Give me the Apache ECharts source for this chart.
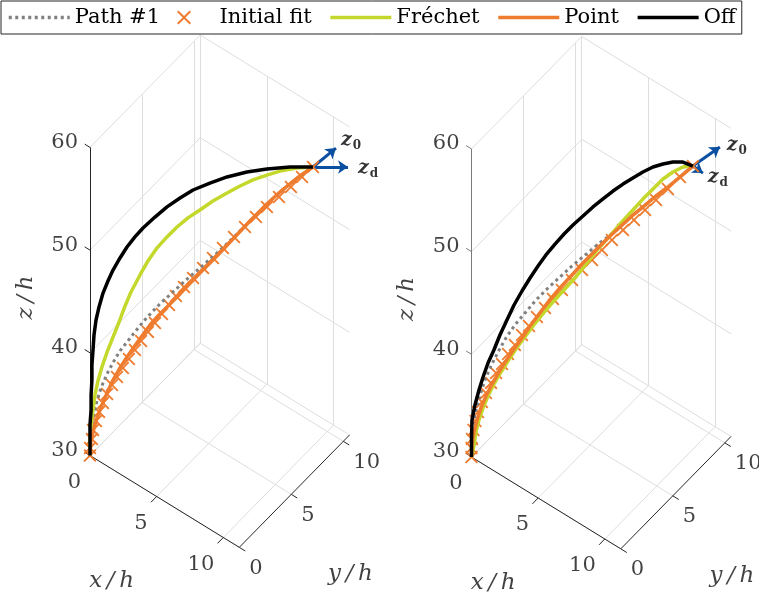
<!DOCTYPE html>
<html><head><meta charset="utf-8">
<script src="https://cdn.jsdelivr.net/npm/echarts@6/dist/echarts.min.js"></script>
<style>html,body{margin:0;padding:0;background:#fff}#c{width:759px;height:598px}</style>
</head><body><div id="c"></div>
<script>
// ---- axes ----
const tickX=[0,5,10], tickY=[0,5,10], tickZ=[30,40,50,60];
const limX=[0,11.2], limY=[0,10.6], limZ=[30,60];
const seriesNames=['Path #1','Initial fit','Fréchet','Point','Off'];

// ---- left panel ----
const L_pathX=[0,0,0.05,0.14,0.28,0.42,0.61,0.84,1.12,1.40,1.73,2.10,2.48,2.90,3.37,3.88,4.49,5.14,5.94,6.69,7.48,8.28,8.89,9.35,9.87,10.43];
const L_pathY=[0,0,0.04,0.11,0.22,0.33,0.47,0.65,0.87,1.09,1.34,1.63,1.92,2.24,2.60,3.00,3.47,3.98,4.59,5.17,5.79,6.40,6.87,7.24,7.63,8.07];
const L_pathZ=[30,31.51,32.68,33.75,34.92,35.99,37.06,38.13,39.20,40.18,41.05,42.03,43.00,43.97,44.95,45.92,47.09,48.26,49.72,51.18,52.83,54.49,55.66,56.44,57.31,58.09];

const L_pointX=[0,0.05,0.19,0.33,0.56,0.80,1.08,1.40,1.73,2.06,2.43,2.81,3.18,3.60,4.21,5.14,5.94,6.69,7.48,8.28,8.89,9.35,9.87,10.43];
const L_pointY=[0,0.04,0.14,0.25,0.43,0.62,0.83,1.09,1.34,1.59,1.88,2.17,2.46,2.79,3.26,3.98,4.59,5.17,5.79,6.40,6.87,7.24,7.63,8.07];
const L_pointZ=[30,31.51,32.68,33.65,34.92,36.09,37.35,38.52,39.59,40.56,41.64,42.71,43.58,44.46,45.73,47.77,49.43,51.08,52.83,54.49,55.66,56.44,57.31,58.09];

const L_fitX=[0,0,0.09,0.14,0.28,0.42,0.61,0.80,1.03,1.26,1.54,1.82,2.10,2.39,2.71,3.04,3.37,3.70,4.02,4.40,4.82,5.29,5.75,6.22,6.74,7.25,7.76,8.28,8.84,9.40,9.92,10.43];
const L_fitY=[0,0,0.07,0.11,0.22,0.33,0.47,0.62,0.80,0.98,1.19,1.41,1.63,1.85,2.10,2.35,2.60,2.86,3.11,3.40,3.73,4.09,4.45,4.81,5.21,5.61,6.01,6.40,6.84,7.27,7.67,8.07];
const L_fitZ=[30,30.73,31.61,32.48,33.36,34.24,35.11,35.99,36.86,37.64,38.52,39.40,40.27,41.15,42.03,42.90,43.78,44.65,45.53,46.41,47.28,48.26,49.23,50.20,51.28,52.25,53.22,54.20,55.17,56.14,57.12,58.09];

const L_frechetX=[0,0,0.05,0.14,0.23,0.37,0.56,0.80,1.08,1.36,1.64,1.92,2.34,2.71,3.13,3.60,4.07,4.58,5.14,5.75,6.41,7.02,7.62,8.28,8.89,9.68,10.43];
const L_frechetY=[0,0,0.04,0.11,0.18,0.29,0.43,0.62,0.83,1.05,1.27,1.48,1.81,2.10,2.42,2.79,3.15,3.55,3.98,4.45,4.96,5.43,5.90,6.40,6.87,7.49,8.07];
const L_frechetZ=[30,31.51,32.97,34.43,35.89,37.25,38.62,40.08,41.54,43.00,44.56,45.92,47.58,48.94,50.20,51.28,52.25,53.13,53.90,54.78,55.56,56.24,56.83,57.31,57.70,57.99,58.09];

const L_offX=[0,0,0,0.05,0.05,0.09,0.09,0.14,0.19,0.28,0.42,0.61,0.84,1.08,1.40,1.73,2.10,2.48,3.04,3.60,4.21,4.82,5.61,6.41,7.34,8.28,9.35,10.43];
const L_offY=[0,0,0,0.04,0.04,0.07,0.07,0.11,0.14,0.22,0.33,0.47,0.65,0.83,1.09,1.34,1.63,1.92,2.35,2.79,3.26,3.73,4.34,4.96,5.68,6.40,7.24,8.07];
const L_offZ=[30,31.51,32.97,34.43,35.89,37.35,38.81,40.27,41.73,43.19,44.46,45.82,46.99,48.06,49.23,50.30,51.28,52.15,53.22,54.20,55.07,55.85,56.53,57.12,57.60,57.90,58.09,58.09];

const L_end=[10.43,8.07,58.09], L_z0=[1.08,0.83,1.85], L_zd=[1.64,1.27,0];

// ---- right panel ----
const R_pathX=[0,0.02,0.07,0.21,0.40,0.63,0.91,1.24,1.61,2.03,2.50,3.02,3.53,4.09,4.65,5.26,5.87,6.43,6.95,7.51,8.07,8.63,9.19,9.75,10.36];
const R_pathY=[0,0.02,0.05,0.16,0.31,0.49,0.71,0.96,1.25,1.57,1.94,2.33,2.73,3.17,3.60,4.07,4.54,4.97,5.37,5.81,6.24,6.68,7.11,7.54,8.01];
const R_pathZ=[30,31.66,33.12,34.58,36.04,37.50,38.86,40.22,41.59,42.85,44.02,45.29,46.36,47.43,48.50,49.57,50.64,51.52,52.40,53.47,54.44,55.41,56.29,57.26,58.33];

const R_pointX=[0,0.02,0.12,0.26,0.44,0.68,0.96,1.29,1.61,1.99,2.36,2.74,3.16,3.62,4.14,4.70,5.26,5.82,6.38,6.95,7.51,8.07,8.63,9.19,9.75,10.36];
const R_pointY=[0,0.02,0.09,0.20,0.34,0.52,0.74,0.99,1.25,1.54,1.83,2.12,2.44,2.80,3.20,3.64,4.07,4.50,4.94,5.37,5.81,6.24,6.68,7.11,7.54,8.01];
const R_pointZ=[30,31.17,32.43,33.60,34.77,35.94,37.11,38.28,39.35,40.52,41.59,42.76,43.92,45.19,46.46,47.72,48.99,50.16,51.32,52.40,53.47,54.44,55.41,56.29,57.26,58.33];

const R_fitX=[0,0,0.02,0.09,0.19,0.30,0.49,0.68,0.91,1.15,1.43,1.71,2.03,2.36,2.69,3.06,3.44,3.81,4.23,4.70,5.17,5.64,6.10,6.57,7.09,7.60,8.12,8.63,9.19,9.75,10.36];
const R_fitY=[0,0,0.02,0.07,0.14,0.24,0.38,0.52,0.71,0.89,1.10,1.32,1.57,1.83,2.08,2.37,2.66,2.95,3.27,3.64,4.00,4.36,4.72,5.08,5.48,5.88,6.28,6.68,7.11,7.54,8.01];
const R_fitZ=[30,30.88,31.75,32.63,33.51,34.38,35.36,36.23,37.21,38.18,39.06,40.03,40.91,41.88,42.76,43.63,44.51,45.38,46.26,47.23,48.21,49.18,50.16,51.13,52.10,53.08,54.05,55.02,56.10,57.26,58.33];

const R_frechetX=[0,0.12,0.21,0.35,0.54,0.77,1.05,1.38,1.71,2.08,2.46,2.88,3.30,3.77,4.28,4.84,5.40,5.92,6.43,6.95,7.51,8.02,8.49,8.96,9.42,9.89,10.36];
const R_frechetY=[0,0.09,0.16,0.27,0.42,0.60,0.81,1.07,1.32,1.61,1.90,2.23,2.55,2.91,3.31,3.74,4.18,4.58,4.97,5.37,5.81,6.20,6.57,6.93,7.29,7.65,8.01];
const R_frechetZ=[30,31.17,32.43,33.60,34.77,35.94,37.11,38.28,39.35,40.52,41.59,42.76,43.83,45.00,46.16,47.43,48.89,50.25,51.42,52.69,53.95,55.12,56.10,57.07,57.75,58.24,58.33];

const R_offX=[0,0,0.02,0.16,0.35,0.54,0.77,1.05,1.33,1.66,1.99,2.36,2.74,3.11,3.48,3.91,4.33,4.75,5.22,5.68,6.15,6.62,7.09,7.55,8.02,8.49,8.96,9.42,9.89,10.36];
const R_offY=[0,0,0.02,0.13,0.27,0.42,0.60,0.81,1.03,1.28,1.54,1.83,2.12,2.41,2.70,3.02,3.35,3.67,4.03,4.40,4.76,5.12,5.48,5.84,6.20,6.57,6.93,7.29,7.65,8.01];
const R_offZ=[30,31.66,33.60,35.06,36.52,37.79,39.15,40.42,41.88,43.34,44.80,46.16,47.43,48.60,49.67,50.74,51.71,52.59,53.47,54.34,55.12,55.90,56.58,57.17,57.75,58.24,58.53,58.72,58.72,58.33];

const R_end=[10.36,8.01,58.33], R_z0=[1.26,0.98,1.85], R_zd=[0.47,0.36,-0.68];

// ---- styling ----
const FONT="'DejaVu Serif', serif";
const C={path:'#808080',orange:'#EF7B2E',frechet:'#C4D82C',off:'#000000',arrow:'#0B4FA0',grid:'#DEDEDE',axis:'#262626'};
const CROSS='path://M0,2L2,0L10,8L18,0L20,2L12,10L20,18L18,20L10,12L2,20L0,18L8,10Z';

// orthographic projection of (x,y,z) onto the page plane (1 unit = 1 px)
const P=(x,y,z)=>[13.33*x+10.4*y, -8.2*x+10.6*y+10.27*(z-30)];
const zip=(X,Y,Z)=>X.map((x,i)=>P(x,Y[i],Z[i]));
const add=(a,b)=>[a[0]+b[0],a[1]+b[1],a[2]+b[2]];
const shift=(p,dx,dy)=>[p[0]+dx,p[1]-dy];

const panels=[
 {path:[L_pathX,L_pathY,L_pathZ],fit:[L_fitX,L_fitY,L_fitZ],fre:[L_frechetX,L_frechetY,L_frechetZ],
  pt:[L_pointX,L_pointY,L_pointZ],off:[L_offX,L_offY,L_offZ],end:L_end,z0:L_z0,zd:L_zd,zAxisColor:C.axis,
  z0lab:[15,-8],zdlab:[20,1]},
 {path:[R_pathX,R_pathY,R_pathZ],fit:[R_fitX,R_fitY,R_fitZ],fre:[R_frechetX,R_frechetY,R_frechetZ],
  pt:[R_pointX,R_pointY,R_pointZ],off:[R_offX,R_offY,R_offZ],end:R_end,z0:R_z0,zd:R_zd,zAxisColor:'#7a7a7a',
  z0lab:[17,-2],zdlab:[15,4]}
];

const series=[];
panels.forEach((pn,gi)=>{
  const seg=(a,b)=>({coords:[P(...a),P(...b)]});
  const g=[];
  tickY.forEach(y=>g.push(seg([0,y,limZ[0]],[0,y,limZ[1]])));
  tickZ.forEach(z=>g.push(seg([0,limY[0],z],[0,limY[1],z])));
  tickX.forEach(x=>g.push(seg([x,limY[1],limZ[0]],[x,limY[1],limZ[1]])));
  tickZ.forEach(z=>g.push(seg([limX[0],limY[1],z],[limX[1],limY[1],z])));
  tickX.forEach(x=>g.push(seg([x,limY[0],limZ[0]],[x,limY[1],limZ[0]])));
  tickY.forEach(y=>g.push(seg([limX[0],y,limZ[0]],[limX[1],y,limZ[0]])));
  const base={xAxisIndex:gi,yAxisIndex:gi,silent:true,animation:false};
  series.push(Object.assign({type:'lines',coordinateSystem:'cartesian2d',polyline:false,data:g,
    lineStyle:{color:C.grid,width:1,opacity:1},symbol:'none'},base));
  const ax=[];
  ax.push(seg([limX[0],limY[0],limZ[0]],[limX[1],limY[0],limZ[0]]));
  ax.push(seg([limX[1],limY[0],limZ[0]],[limX[1],limY[1],limZ[0]]));
  tickX.forEach(x=>ax.push(seg([x,0,limZ[0]],[x,-0.55,limZ[0]])));
  tickY.forEach(y=>ax.push(seg([limX[1],y,limZ[0]],[limX[1]+0.45,y,limZ[0]])));
  series.push(Object.assign({type:'lines',coordinateSystem:'cartesian2d',polyline:false,data:ax,
    lineStyle:{color:C.axis,width:1,opacity:1},symbol:'none'},base));
  const zax=[seg([0,0,limZ[0]],[0,0,limZ[1]])];
  tickZ.forEach(z=>zax.push(seg([0,0,z],[-0.4,0,z])));
  series.push(Object.assign({type:'lines',coordinateSystem:'cartesian2d',polyline:false,data:zax,
    lineStyle:{color:pn.zAxisColor,width:1,opacity:1},symbol:'none'},base));

  // data series
  series.push(Object.assign({},base,{type:'line',name:'Path #1',data:zip(...pn.path),symbol:'none',clip:false,
    lineStyle:{color:C.path,width:3,type:[3,3.5]},itemStyle:{color:C.path}}));
  series.push(Object.assign({},base,{type:'scatter',name:'Initial fit',data:zip(...pn.fit),symbol:CROSS,symbolSize:13,
    symbolKeepAspect:true,clip:false,itemStyle:{color:C.orange,opacity:1}}));
  series.push(Object.assign({},base,{type:'line',name:'Fréchet',data:zip(...pn.fre),symbol:'none',clip:false,
    lineStyle:{color:C.frechet,width:3.5},itemStyle:{color:C.frechet}}));
  series.push(Object.assign({},base,{type:'line',name:'Point',data:zip(...pn.pt),symbol:'none',clip:false,
    lineStyle:{color:C.orange,width:3.5},itemStyle:{color:C.orange}}));
  series.push(Object.assign({},base,{type:'line',name:'Off',data:zip(...pn.off),symbol:'none',clip:false,
    lineStyle:{color:C.off,width:3.5},itemStyle:{color:C.off}}));

  // arrows z0 / zd
  const tip0=add(pn.end,pn.z0), tipd=add(pn.end,pn.zd);
  series.push(Object.assign({},base,{type:'lines',coordinateSystem:'cartesian2d',polyline:false,
    data:[{coords:[P(...pn.end),P(...tip0)]},{coords:[P(...pn.end),P(...tipd)]}],
    symbol:['none','arrow'],symbolSize:10,lineStyle:{color:C.arrow,width:3,opacity:1}}));

  // text labels
  const txt=[];
  const lab=(p,text,align,extra)=>txt.push({value:p,label:Object.assign({formatter:text,align:align},extra||{})});
  tickZ.forEach(z=>lab(shift(P(0,0,z),-12,-5),String(z),'right'));
  tickX.forEach(x=>lab(shift(P(x,0,limZ[0]),-9,27),String(x),'right'));
  tickY.forEach(y=>lab(shift(P(limX[1],y,limZ[0]),10,21),String(y),'left'));
  const it={fontStyle:'italic',fontSize:23};
  lab(shift(P(limX[1]/2,0,limZ[0]),-53,80),'x\u2009/\u2009h','center',it);
  lab(shift(P(limX[1],limY[1]/2,limZ[0]),56,83),'y\u2009/\u2009h','center',it);
  lab(shift(P(0,0,45),-64,-4),'z\u2009/\u2009h','center',Object.assign({rotate:90},it));
  const rich={z:{fontFamily:FONT,fontStyle:'italic',fontWeight:'bold',fontSize:19,color:'#000'},
              s:{fontFamily:FONT,fontWeight:'bold',fontSize:12,color:'#000',padding:[11,0,0,1]}};
  lab(shift(P(...tip0),pn.z0lab[0],pn.z0lab[1]),'{z|z}{s|0}','center',{rich});
  lab(shift(P(...tipd),pn.zdlab[0],pn.zdlab[1]),'{z|z}{s|d}','center',{rich});
  series.push(Object.assign({},base,{type:'scatter',data:txt,symbolSize:1,clip:false,
    itemStyle:{color:'rgba(0,0,0,0)'},
    label:{show:true,position:'inside',verticalAlign:'middle',fontFamily:FONT,fontSize:21,color:'#111'}}));
});

const origins=[[90,455.5],[471.5,457]];
const U0=-90,U1=287.5,V0=-140,V1=440;
const hideSym={opacity:0};
const option={
  animation:false,
  backgroundColor:'#fff',
  grid:origins.map(o=>({left:o[0]+U0,top:o[1]-V1,width:U1-U0,height:V1-V0,containLabel:false})),
  xAxis:origins.map((o,i)=>({type:'value',gridIndex:i,min:U0,max:U1,show:false})),
  yAxis:origins.map((o,i)=>({type:'value',gridIndex:i,min:V0,max:V1,show:false})),
  legend:{data:[
      {name:seriesNames[0],itemStyle:hideSym},
      {name:seriesNames[1]},
      {name:seriesNames[2],itemStyle:hideSym},
      {name:seriesNames[3],itemStyle:hideSym},
      {name:seriesNames[4],itemStyle:hideSym}],
    left:1,top:1,orient:'horizontal',itemWidth:61,itemHeight:14,itemGap:17,
    padding:[4,6,4,6],borderColor:C.axis,borderWidth:1,borderRadius:0,backgroundColor:'#fff',selectedMode:false,
    textStyle:{fontFamily:FONT,fontSize:21,color:'#000',lineHeight:25},lineStyle:{width:3.5}},
  series:series
};
echarts.init(document.getElementById('c')).setOption(option);
</script></body></html>
